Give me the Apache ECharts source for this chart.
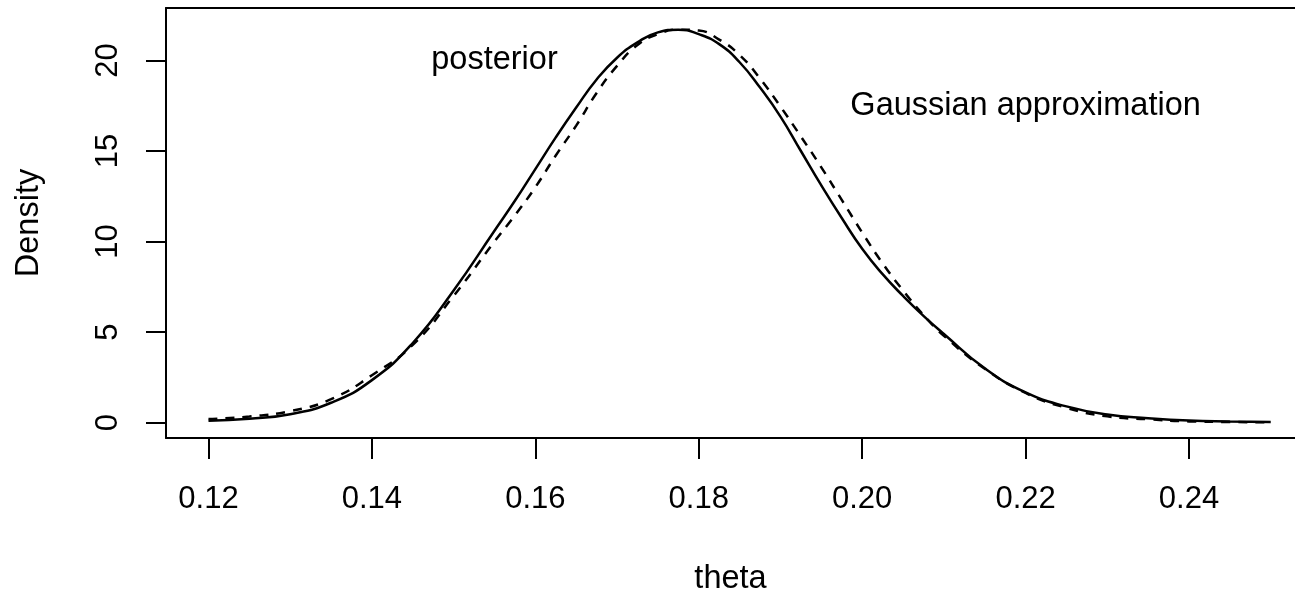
<!DOCTYPE html>
<html>
<head>
<meta charset="utf-8">
<script src="https://cdn.jsdelivr.net/npm/echarts@6/dist/echarts.min.js"></script>
<style>
html,body{margin:0;padding:0;background:#fff;}
#chart{width:1295px;height:593px;}
</style>
</head>
<body>
<div id="chart"></div>
<script>
// ---- data ----
const theta = [0.120,0.125,0.130,0.135,0.140,0.145,0.150,0.155,0.1575,0.160,0.1625,0.165,0.1675,0.170,0.1725,0.175,0.1775,0.180,0.1825,0.185,0.1875,0.190,0.1925,0.195,0.1975,0.200,0.2025,0.205,0.2075,0.210,0.215,0.220,0.225,0.230,0.235,0.240,0.245,0.250];
const posterior = [0.11,0.22,0.47,1.10,2.35,4.40,7.30,10.60,12.25,14.00,15.75,17.40,18.95,20.15,21.00,21.55,21.70,21.45,20.90,19.90,18.50,16.90,15.00,13.10,11.30,9.60,8.20,7.00,5.90,4.90,3.00,1.67,0.90,0.45,0.25,0.12,0.07,0.04];
const gaussian  = [0.20,0.34,0.64,1.30,2.62,4.30,7.00,10.00,11.45,13.00,14.75,16.40,18.20,19.70,20.85,21.45,21.70,21.65,21.15,20.30,19.00,17.45,15.80,14.10,12.30,10.50,8.80,7.30,5.95,4.80,2.98,1.64,0.82,0.35,0.19,0.07,0.04,0.02];
const xTicks = [0.12,0.14,0.16,0.18,0.20,0.22,0.24];
const yTicks = [0,5,10,15,20];
const noteTexts = ['posterior','Gaussian approximation'];
const noteX = [0.155, 0.22];
const noteY = [20, 17.5];
const xTitle = 'theta';
const yTitle = 'Density';

const FONT = 'Liberation Sans, Arial, Helvetica, sans-serif';
const FS = 31;
const FS2 = 32.5;

const chart = echarts.init(document.getElementById('chart'), null, {renderer:'canvas'});
const option = {
  backgroundColor:'#ffffff',
  animation:false,
  grid:{left:166, top:8, bottom:155, right:0, show:false, containLabel:false, outerBoundsMode:'none'},
  xAxis:[{
    type:'value', min:0.1148, max:0.25297, position:'bottom',
    name:xTitle, nameLocation:'middle', nameGap:125,
    nameTextStyle:{fontFamily:FONT, fontSize:FS2, color:'#000'},
    axisLine:{show:true, onZero:false, lineStyle:{color:'#000', width:2}},
    splitLine:{show:false},
    axisTick:{show:true, length:21, inside:false, customValues:xTicks, lineStyle:{color:'#000', width:2}},
    axisLabel:{show:true, margin:46, fontFamily:FONT, fontSize:FS, color:'#000', customValues:xTicks,
      formatter:function(v){return v.toFixed(2);}}
  },{
    type:'value', min:0.1148, max:0.25297, position:'top',
    axisLine:{show:true, onZero:false, lineStyle:{color:'#000', width:2}},
    splitLine:{show:false}, axisTick:{show:false}, axisLabel:{show:false}
  }],
  yAxis:{
    type:'value', min:-0.845, max:22.895,
    name:yTitle, nameLocation:'middle', nameGap:120, nameRotate:90,
    nameTextStyle:{fontFamily:FONT, fontSize:FS2, color:'#000'},
    axisLine:{show:true, onZero:false, lineStyle:{color:'#000', width:2}},
    splitLine:{show:false},
    axisTick:{show:true, length:20, inside:false, customValues:yTicks, lineStyle:{color:'#000', width:2}},
    axisLabel:{show:true, rotate:90, margin:42, fontFamily:FONT, fontSize:FS, color:'#000', customValues:yTicks,
      formatter:function(v){return String(Math.round(v));}}
  },
  series:[
    {
      type:'line', name:'posterior', xAxisIndex:0, showSymbol:false, symbol:'none', smooth:0.5,
      data:theta.map((t,i)=>[t,posterior[i]]),
      lineStyle:{color:'#000', width:2.5, type:'solid'}
    },
    {
      type:'line', name:'Gaussian approximation', xAxisIndex:0, showSymbol:false, symbol:'none', smooth:0.5,
      data:theta.map((t,i)=>[t,gaussian[i]]),
      lineStyle:{color:'#000', width:2.5, type:[9,8]}
    },
    {
      type:'scatter', xAxisIndex:0, symbolSize:0, silent:true,
      itemStyle:{opacity:1},
      data:noteTexts.map((s,i)=>({value:[noteX[i],noteY[i]], name:s})),
      label:{show:true, position:'inside', formatter:function(p){return p.name;},
        fontFamily:FONT, fontSize:FS2, color:'#000', opacity:1, align:'center', verticalAlign:'middle'}
    }
  ]
};
chart.setOption(option);
</script>
</body>
</html>
